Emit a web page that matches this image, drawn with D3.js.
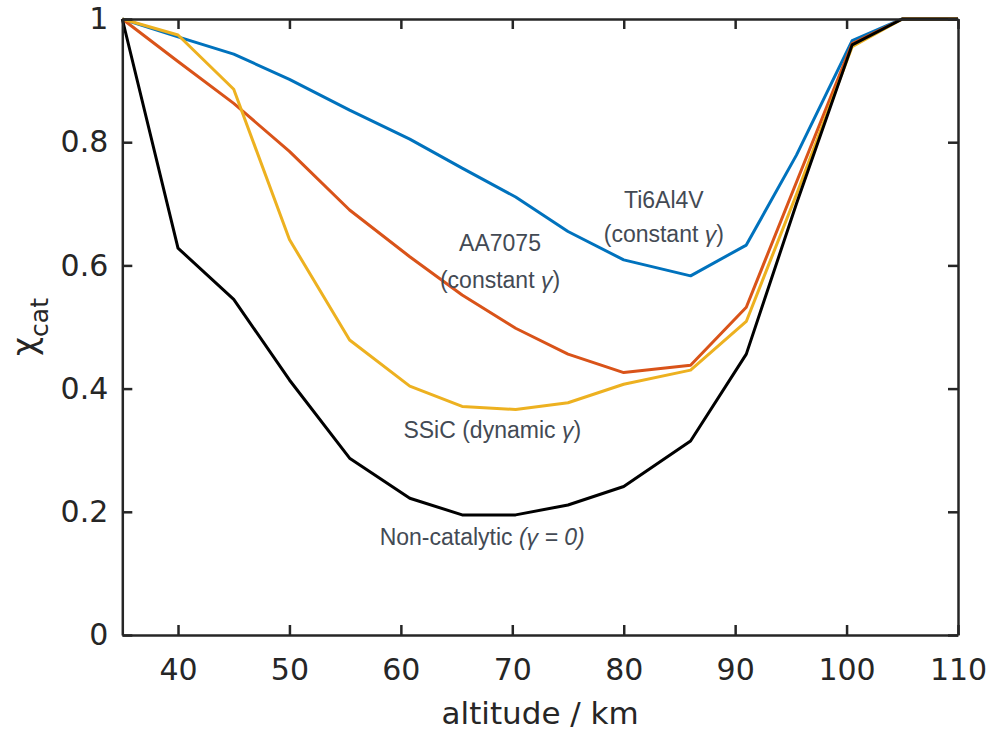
<!DOCTYPE html>
<html>
<head>
<meta charset="utf-8">
<script src="https://cdn.jsdelivr.net/npm/d3@7"></script>
<style>
  body { margin: 0; background: #fff; }
  svg { display: block; font-family: "DejaVu Sans", sans-serif; }
</style>
</head>
<body>
<svg class="chi-chart"></svg>
<script>
// altitude grid (km) and catalytic efficiency per material
var altitude = [35, 40, 45, 50, 55.4, 60.8, 65.5, 70.3, 75, 80, 86, 91, 95.5, 100.5, 105, 110];
var ti6al4v  = [1, 0.971, 0.943, 0.902, 0.852, 0.805, 0.758, 0.711, 0.655, 0.609, 0.583, 0.633, 0.779, 0.965, 1, 1];
var aa7075   = [1, 0.931, 0.863, 0.785, 0.690, 0.614, 0.552, 0.498, 0.456, 0.426, 0.438, 0.532, 0.735, 0.960, 1, 1];
var ssic     = [1, 0.974, 0.886, 0.642, 0.479, 0.404, 0.371, 0.366, 0.377, 0.407, 0.430, 0.509, 0.715, 0.955, 1, 1];
var nonCat   = [1, 0.628, 0.545, 0.414, 0.287, 0.222, 0.195, 0.195, 0.211, 0.241, 0.315, 0.456, 0.700, 0.958, 1, 1];

var xTicks = [40, 50, 60, 70, 80, 90, 100, 110];
var yTicks = [0, 0.2, 0.4, 0.6, 0.8, 1];
var yTickLabels = ["0", "0.2", "0.4", "0.6", "0.8", "1"];

var svgWidth = 997, svgHeight = 732;
// note: "top" is taken by window.top, so the box edges get their own names
var boxLeft = 122.3, boxRight = 958, boxTop = 19, boxBottom = 635;

var svg = d3.select('svg.chi-chart')
    .attr("width", svgWidth)
    .attr("height", svgHeight);

var xScale = d3.scaleLinear().domain([35, 110]).range([boxLeft, boxRight]),
    yScale = d3.scaleLinear().domain([0, 1]).range([boxBottom, boxTop]);

var axisColor = "#262626";

// series, drawn in matlab's default color order
var series = [
    { values: ti6al4v, color: "#0072BD" },
    { values: aa7075,  color: "#D95319" },
    { values: ssic,    color: "#EDB120" },
    { values: nonCat,  color: "#000000" }
];

var line = d3.line()
    .x(function (d) { return xScale(d[0]); })
    .y(function (d) { return yScale(d[1]); });

svg.append("g")
    .selectAll("path")
    .data(series)
    .enter()
    .append("path")
    .attr("d", function (s) { return line(d3.zip(altitude, s.values)); })
    .style("fill", "none")
    .style("stroke", function (s) { return s.color; })
    .style("stroke-width", 3)
    .style("stroke-linejoin", "round");

// axes, ticks pointing inwards, box on
var gx = svg.append("g")
    .attr("transform", "translate(0," + boxBottom + ")")
    .call(d3.axisBottom(xScale).tickValues(xTicks).tickSizeInner(-10).tickSizeOuter(0).tickPadding(24));

var gy = svg.append("g")
    .attr("transform", "translate(" + boxLeft + ",0)")
    .call(d3.axisLeft(yScale).tickValues(yTicks)
        .tickFormat(function (d, i) { return yTickLabels[i]; })
        .tickSizeInner(-10).tickSizeOuter(0).tickPadding(14));

var gTop = svg.append("g")
    .attr("transform", "translate(0," + boxTop + ")")
    .call(d3.axisTop(xScale).tickValues(xTicks).tickSizeInner(-10).tickSizeOuter(0).tickFormat(""));

var gRight = svg.append("g")
    .attr("transform", "translate(" + boxRight + ",0)")
    .call(d3.axisRight(yScale).tickValues(yTicks).tickSizeInner(-10).tickSizeOuter(0).tickFormat(""));

[gx, gy, gTop, gRight].forEach(function (g) {
    g.select(".domain").style("stroke", axisColor).style("stroke-width", 2.5);
    g.selectAll(".tick line").style("stroke", axisColor).style("stroke-width", 2.5);
    g.selectAll(".tick text")
        .style("fill", axisColor)
        .style("font-family", '"DejaVu Sans", sans-serif')
        .style("font-size", "30px");
});

// X label
svg.append('text')
    .attr('x', (boxLeft + boxRight) / 2)
    .attr('y', 724)
    .attr('text-anchor', 'middle')
    .style('fill', axisColor)
    .style('font-size', '31px')
    .text('altitude / km');

// Y label
var yLabel = svg.append('text')
    .attr('text-anchor', 'middle')
    .attr('transform', 'translate(36,' + ((boxTop + boxBottom) / 2) + ')rotate(-90)')
    .style('fill', axisColor);
yLabel.append('tspan').style('font-size', '33px').text('χ');
yLabel.append('tspan').attr('dy', 12).style('font-size', '25px').text('cat');

// curve annotations
var noteColor = "#434a54";
var notes = [
    { lines: [["Ti6Al4V"], ["(constant ", "γ", ")"]], x: 83.6, y: [0.706, 0.651] },
    { lines: [["AA7075"], ["(constant ", "γ", ")"]], x: 68.9, y: [0.636, 0.576] },
    { lines: [["SSiC (dynamic ", "γ", ")"]], x: 68.2, y: [0.333] },
    { lines: [["Non-catalytic ", "(γ = 0)"]], x: 67.3, y: [0.159] }
];

notes.forEach(function (n) {
    n.lines.forEach(function (parts, li) {
        var t = svg.append('text')
            .attr('x', xScale(n.x))
            .attr('y', yScale(n.y[li]))
            .attr('dy', '0.35em')
            .attr('text-anchor', 'middle')
            .style('fill', noteColor)
            .style('font-family', '"Liberation Sans", Arial, sans-serif')
            .style('font-size', '23px');
        parts.forEach(function (p, pi) {
            t.append('tspan')
                .style('font-style', (pi % 2 === 1) ? 'italic' : 'normal')
                .text(p);
        });
    });
});
</script>
</body>
</html>
